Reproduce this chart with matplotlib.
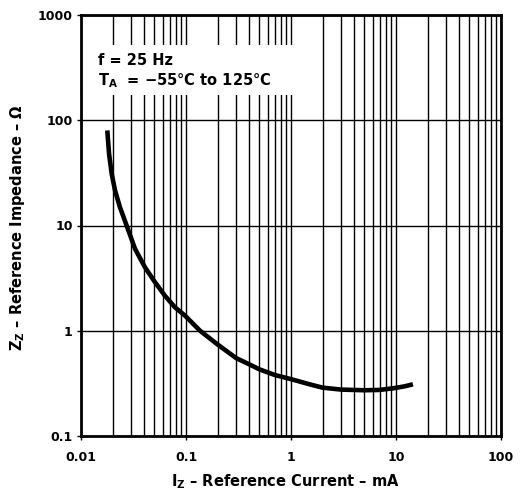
import matplotlib
matplotlib.use("Agg")
import matplotlib.pyplot as plt
from matplotlib.patches import Rectangle
from matplotlib.ticker import LogLocator, NullFormatter, FixedLocator, FixedFormatter

# ---- data ----
iz_ma = [0.0178, 0.0185, 0.0196, 0.0211, 0.0235, 0.0272, 0.0327, 0.0407,
         0.0507, 0.063, 0.0785, 0.098, 0.136, 0.2, 0.3, 0.4, 0.5, 0.7,
         1.0, 1.5, 2.0, 3.0, 5.0, 7.0, 9.4, 12.0, 14.5]
zz_ohm = [80, 48, 31, 21.5, 14.9, 10.0, 6.0, 4.0,
          2.89, 2.15, 1.67, 1.39, 1.0, 0.74, 0.55, 0.48, 0.43, 0.38,
          0.347, 0.31, 0.288, 0.276, 0.272, 0.274, 0.284, 0.296, 0.31]

x_ticks = [0.01, 0.1, 1, 10, 100]
x_tick_labels = ["0.01", "0.1", "1", "10", "100"]
y_ticks = [0.1, 1, 10, 100, 1000]
y_tick_labels = ["0.1", "1", "10", "100", "1000"]

plt.rcParams["font.family"] = ["DejaVu Sans"]
plt.rcParams["font.weight"] = "bold"
plt.rcParams["mathtext.fontset"] = "custom"
plt.rcParams["mathtext.rm"] = "DejaVu Sans:bold"
plt.rcParams["mathtext.bf"] = "DejaVu Sans:bold"
plt.rcParams["mathtext.it"] = "DejaVu Sans:bold"
plt.rcParams["mathtext.default"] = "bf"

fig = plt.figure(figsize=(5.22, 4.99), dpi=100)
ax = fig.add_axes([81/522, 1 - 436/499, 420/522, 421/499])
ax.set_xscale("log")
ax.set_yscale("log")
ax.set_xlim(0.01, 100)
ax.set_ylim(0.1, 1000)

# grid: vertical major + minor, horizontal major only
ax.xaxis.set_minor_locator(LogLocator(base=10, subs=range(2, 10)))
ax.xaxis.set_minor_formatter(NullFormatter())
ax.yaxis.set_minor_formatter(NullFormatter())
ax.yaxis.set_minor_locator(FixedLocator([]))
ax.grid(True, axis="x", which="both", color="black", linewidth=1.0)
ax.grid(True, axis="y", which="major", color="black", linewidth=1.0)
ax.set_axisbelow(True)

ax.xaxis.set_major_locator(FixedLocator(x_ticks))
ax.xaxis.set_major_formatter(FixedFormatter(x_tick_labels))
ax.yaxis.set_major_locator(FixedLocator(y_ticks))
ax.yaxis.set_major_formatter(FixedFormatter(y_tick_labels))
ax.tick_params(axis="both", which="major", direction="out", length=3,
               width=1, colors="black", labelsize=9)
ax.tick_params(axis="x", which="major", pad=8)
ax.tick_params(axis="y", which="major", pad=3)
ax.tick_params(which="minor", length=0)
for lab in ax.get_xticklabels() + ax.get_yticklabels():
    lab.set_fontweight("bold")

for s in ax.spines.values():
    s.set_linewidth(2.0)
    s.set_color("black")
    s.set_zorder(5)

MINUS = "\u2212"
DEG = "\u00b0"
NDASH = "\u2013"
OMEGA = "\u03a9"

# white area behind annotation text
ax.add_patch(Rectangle((0.0, 0.81), 0.533, 0.119, transform=ax.transAxes,
                       facecolor="white", edgecolor="none", zorder=2))
ax.text(0.040, 0.881, "f = 25 Hz", transform=ax.transAxes, fontsize=10.5,
        fontweight="bold", va="baseline", ha="left", zorder=3)
ax.text(0.040, 0.834, r"T$_\mathbf{A}$  = " + MINUS + "55" + DEG + "C to 125" + DEG + "C",
        transform=ax.transAxes, fontsize=10.5, fontweight="bold",
        va="baseline", ha="left", zorder=3)

ax.plot(iz_ma, zz_ohm, color="black", linewidth=3.3, solid_capstyle="butt",
        solid_joinstyle="round", zorder=4)

ax.set_xlabel(r"I$_\mathbf{Z}$ " + NDASH + " Reference Current " + NDASH + " mA",
              fontsize=10.5, fontweight="bold", va="center", ha="center")
ax.xaxis.set_label_coords(0.486, -0.109)
ax.set_ylabel(r"Z$_\mathbf{Z}$ " + NDASH + " Reference Impedance " + NDASH + " " + OMEGA,
              fontsize=10.5, fontweight="bold", va="center", ha="center")
ax.yaxis.set_label_coords(-0.152, 0.494)

fig.savefig("out.png", dpi=100, facecolor="white")
